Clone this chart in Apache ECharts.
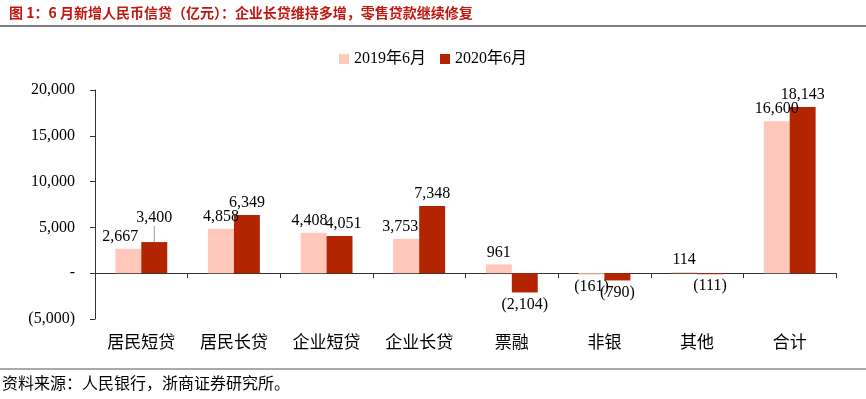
<!DOCTYPE html>
<html>
<head>
  <meta charset="UTF-8">
  <script src="https://cdn.jsdelivr.net/npm/echarts@6/dist/echarts.min.js"></script>
  <style>
    html, body { margin: 0; padding: 0; background: #fff; }
    #chart { width: 866px; height: 399px; }
  </style>
</head>
<body>
<div id="chart"></div>
<script>
  var categories = ['居民短贷', '居民长贷', '企业短贷', '企业长贷', '票融', '非银', '其他', '合计'];
  var jun2019 = [2667, 4858, 4408, 3753, 961, -161, 114, 16600];
  var jun2020 = [3400, 6349, 4051, 7348, -2104, -790, -111, 18143];
  var seriesNames = ['2019年6月', '2020年6月'];

  function fmt(v) {
    if (v === 0) return '-';
    var s = Math.abs(v).toString().replace(/\B(?=(\d{3})+(?!\d))/g, ',');
    return v < 0 ? '(' + s + ')' : s;
  }

  var serif = '"Liberation Serif", "Times New Roman", "Noto Sans CJK SC", serif';

  // lineAt: index of the bar whose label is lifted with a leader line
  function makeSeries(name, data, color, layout, lineAt) {
    return {
      name: name,
      type: 'bar',
      barGap: '0%',
      barCategoryGap: '44%',
      itemStyle: { color: color },
      data: data.map(function (v, i) {
        return {
          value: v,
          label: { position: v < 0 ? 'bottom' : 'top' },
          labelLine: { show: i === lineAt }
        };
      }),
      label: {
        show: true,
        distance: 4,
        fontFamily: serif,
        fontSize: 16,
        color: '#000',
        formatter: function (p) { return fmt(p.value); }
      },
      labelLayout: layout,
      labelLine: { show: false, length2: 0, lineStyle: { color: '#999', width: 1 } }
    };
  }

  var chart = echarts.init(document.getElementById('chart'));
  chart.setOption({
    animation: false,
    backgroundColor: '#fff',
    title: {
      text: '图 1：6 月新增人民币信贷（亿元）：企业长贷维持多增，零售贷款继续修复',
      left: 4,
      top: 1,
      textStyle: {
        color: '#C0170F',
        fontSize: 14,
        fontWeight: 'bold',
        fontFamily: '"Noto Sans CJK SC", sans-serif'
      }
    },
    legend: {
      data: seriesNames,
      top: 46,
      left: 'center',
      itemWidth: 10,
      itemHeight: 10,
      itemGap: 14,
      icon: 'rect',
      textStyle: { fontFamily: serif, fontSize: 16, color: '#000' }
    },
    grid: { left: 95, right: 30, top: 90, bottom: 80, containLabel: false },
    xAxis: {
      type: 'category',
      data: categories,
      axisLine: { onZero: true, lineStyle: { color: '#333', width: 1 } },
      axisTick: { show: true, alignWithLabel: false, length: 5, inside: false, lineStyle: { color: '#333' } },
      axisLabel: {
        interval: 0,
        margin: 14,
        fontFamily: '"Noto Sans CJK SC", serif',
        fontSize: 17,
        color: '#000'
      }
    },
    yAxis: {
      type: 'value',
      min: -5000,
      max: 20000,
      interval: 5000,
      splitLine: { show: false },
      axisLine: { show: true, lineStyle: { color: '#333' } },
      axisTick: { show: true, length: 5, lineStyle: { color: '#333' } },
      axisLabel: {
        margin: 20,
        fontFamily: serif,
        fontSize: 16,
        color: '#000',
        formatter: fmt
      }
    },
    series: [
      makeSeries(seriesNames[0], jun2019, '#FFC8BA', function (p) {
        if (p.dataIndex === 0) return { dx: -8 };
        if (p.dataIndex === 2) return { dx: -4 };
        if (p.dataIndex === 3) return { dx: -6 };
        return {};
      }, -1),
      makeSeries(seriesNames[1], jun2020, '#B32400', function (p) {
        if (p.dataIndex === 0) return { dy: -12 };
        if (p.dataIndex === 2) return { dx: 4 };
        return {};
      }, 0)
    ],
    graphic: [
      { type: 'line', shape: { x1: 0, y1: 26, x2: 866, y2: 26 }, style: { stroke: '#555', lineWidth: 1.5 } },
      { type: 'line', shape: { x1: 0, y1: 369, x2: 866, y2: 369 }, style: { stroke: '#555', lineWidth: 1 } },
      {
        type: 'text', left: 2, top: 375,
        style: {
          text: '资料来源：人民银行，浙商证券研究所。',
          fontSize: 16,
          fontFamily: '"Noto Sans CJK SC", serif',
          fill: '#000'
        }
      }
    ]
  });
</script>
</body>
</html>
